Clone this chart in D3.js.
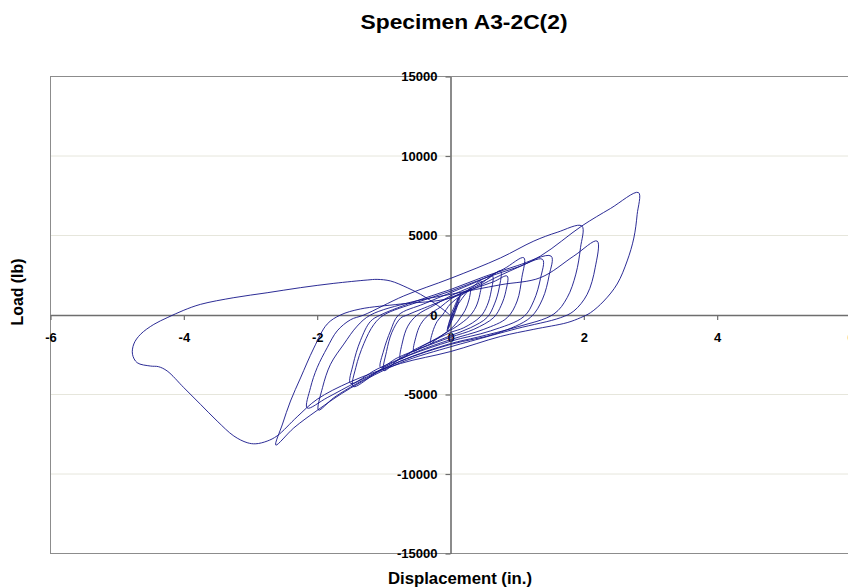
<!DOCTYPE html>
<html>
<head>
<meta charset="utf-8">
<script src="https://cdn.jsdelivr.net/npm/d3@7"></script>
<style>
  body { margin: 0; background: #fff; }
  svg { display: block; font-family: Arial, "Liberation Sans", sans-serif; }
</style>
</head>
<body>
<svg id="chart" width="848" height="588"></svg>
<script>
// [displacement (in.), load (lb)], one array per cycle
const cycle0 = [[0,0],[0.05,450],[0.12,1100],[0.09,600],[0.02,-250],[-0.04,-850],[-0.01,-400],[0.04,150],[0.1,800],[0.15,1300],[0.11,650],[0.03,-250],[-0.05,-1000],[-0.02,-450],[0.03,100]];
const cycle1 = [[0.15,900],[0.25,1450],[0.3,1700],[0.28,1000],[0.22,300],[0.15,-150],[0.05,-700],[-0.1,-1200],[-0.22,-1550],[-0.3,-1800],[-0.27,-1100],[-0.2,-400],[-0.12,0]];
const cycle2 = [[0,700],[0.15,1200],[0.3,1650],[0.46,2140],[0.44,1300],[0.38,500],[0.28,-100],[0.1,-700],[0,-950],[-0.2,-1450],[-0.4,-1900],[-0.55,-2260],[-0.52,-1400],[-0.45,-600],[-0.33,0]];
const cycle3 = [[-0.15,500],[0,1000],[0.2,1450],[0.45,1950],[0.63,2450],[0.61,1500],[0.55,600],[0.45,-100],[0.2,-800],[0,-1100],[-0.3,-1700],[-0.55,-2200],[-0.75,-2750],[-0.72,-1700],[-0.64,-700],[-0.5,0]];
const cycle4 = [[-0.25,600],[0,1200],[0.3,1750],[0.55,2250],[0.75,2770],[0.73,1700],[0.66,700],[0.55,-150],[0.3,-800],[0,-1300],[-0.4,-2000],[-0.75,-2700],[-1.0,-3500],[-0.96,-2300],[-0.88,-1100],[-0.75,-200],[-0.65,0]];
const cycle5 = [[-0.3,600],[0,1100],[0.35,1650],[0.65,2100],[0.85,2450],[0.83,1500],[0.76,600],[0.65,-150],[0.35,-900],[0,-1400],[-0.45,-2100],[-0.8,-2700],[-1.05,-3300],[-1.0,-2200],[-0.9,-1000],[-0.78,0]];
const cycle6 = [[-0.4,700],[0,1400],[0.4,2100],[0.8,2900],[1.1,3600],[1.07,2350],[1.0,880],[0.85,-170],[0.5,-900],[0,-1550],[-0.5,-2300],[-1.0,-3300],[-1.46,-4500],[-1.42,-3300],[-1.3,-1800],[-1.15,-600],[-1.0,0]];
const cycle7 = [[-0.5,800],[0,1500],[0.5,2300],[1.0,3000],[1.38,3500],[1.35,2300],[1.25,900],[1.1,-100],[0.6,-1000],[0,-1650],[-0.6,-2500],[-1.1,-3400],[-1.5,-4300],[-1.46,-3100],[-1.35,-1600],[-1.2,-400],[-1.05,0]];
const cycle8 = [[-0.5,900],[0,1600],[0.5,2400],[1.0,3100],[1.51,3700],[1.48,2500],[1.38,1000],[1.2,-150],[0.7,-1150],[0,-1850],[-0.75,-2900],[-1.4,-4200],[-1.85,-5200],[-2.15,-5850],[-2.1,-4570],[-2.0,-3310],[-1.85,-2060],[-1.7,-1000],[-1.5,-300],[-1.3,0]];
const cycle9 = [[-0.7,1200],[0,2300],[0.75,3590],[1.25,4650],[1.6,5200],[1.97,5600],[1.95,4230],[1.88,2570],[1.75,1090],[1.55,60],[1.0,-750],[0.4,-1400],[0,-1800],[-0.75,-2900],[-1.4,-4300],[-1.75,-5200],[-1.98,-5980],[-1.92,-4570],[-1.8,-3100],[-1.6,-1830],[-1.4,-700],[-1.2,0]];
const cycle10 = [[-0.6,800],[0,1300],[0.75,1900],[1.35,2350],[1.85,3710],[2.2,4650],[2.17,2970],[2.05,1300],[1.85,250],[1.65,-170],[1.0,-850],[0.3,-1650],[0,-2000],[-0.75,-3000],[-1.5,-4600],[-2.0,-6000],[-2.35,-7100],[-2.62,-8180],[-2.52,-6860],[-2.4,-5410],[-2.25,-3960],[-2.05,-2080],[-1.85,-570],[-1.65,0],[-1.35,380],[-0.75,690],[0,1070]];
const cycle11 = [[0.75,2500],[1.35,3710],[1.97,5600],[2.4,6700],[2.82,7700],[2.8,6330],[2.75,4840],[2.65,3400],[2.5,1950],[2.3,880],[2.1,145],[1.95,-170],[1.75,-480],[1.25,-900],[0.75,-1350],[0,-2300],[-0.75,-3050],[-1.5,-4200],[-2.0,-5300],[-2.3,-6400],[-2.6,-7600],[-2.75,-7930],[-2.92,-8100],[-3.05,-8030],[-3.25,-7610],[-3.5,-6670],[-3.75,-5620],[-4.0,-4570],[-4.25,-3520],[-4.38,-3250],[-4.5,-3210],[-4.7,-3000],[-4.77,-2470],[-4.75,-1820],[-4.65,-1215],[-4.45,-590],[-4.25,-170],[-4.0,300],[-3.75,670],[-3.25,1090],[-2.75,1400],[-2.25,1720],[-1.75,1990],[-1.25,2200],[-1.1,2240],[-0.9,2140],[-0.65,1720],[-0.45,1300],[-0.25,770],[-0.05,145],[0,-50]];

const xTicks = [-6, -4, -2, 0, 2, 4, 6];
const yTicks = [-15000, -10000, -5000, 0, 5000, 10000, 15000];
const gridLoads = [-10000, -5000, 5000, 10000];

const trace = [].concat(cycle0, cycle1, cycle2, cycle3, cycle4, cycle5,
                        cycle6, cycle7, cycle8, cycle9, cycle10, cycle11);

const svg = d3.select("#chart");
svg.append("rect").attr("width", 848).attr("height", 588).attr("fill", "#fff");

const x = d3.scaleLinear().domain([-6, 6]).range([50.5, 850.5]);
const y = d3.scaleLinear().domain([-15000, 15000]).range([553.5, 76.5]);

// gridlines
svg.append("g").selectAll("line").data(gridLoads).enter().append("line")
  .attr("x1", x(-6)).attr("x2", x(6))
  .attr("y1", d => y(d)).attr("y2", d => y(d))
  .attr("stroke", "#e6e6dc").attr("stroke-width", 1);

// plot frame
svg.append("rect")
  .attr("x", x(-6)).attr("y", y(15000))
  .attr("width", x(6) - x(-6)).attr("height", y(-15000) - y(15000))
  .attr("fill", "none").attr("stroke", "#8c8c8c").attr("stroke-width", 1);

// axes through zero, plain hyphen for negatives like the original
const plain = d => String(d);

const xAxis = svg.append("g")
  .attr("transform", "translate(0," + y(0) + ")")
  .call(d3.axisBottom(x).tickValues(xTicks).tickSize(5).tickSizeOuter(0).tickPadding(13).tickFormat(plain));

const yAxis = svg.append("g")
  .attr("transform", "translate(" + x(0) + ",0)")
  .call(d3.axisLeft(y).tickValues(yTicks).tickSize(5).tickSizeOuter(0).tickPadding(8).tickFormat(plain));

[xAxis, yAxis].forEach(g => {
  g.select(".domain").attr("stroke", "#6e6e6e").attr("stroke-width", 1.6);
  g.selectAll(".tick line").attr("stroke", "#6e6e6e").attr("stroke-width", 1.2);
  g.selectAll(".tick text")
    .attr("fill", "#000")
    .style("font-size", "13px")
    .style("font-weight", "bold")
    .style("font-family", "Arial, 'Liberation Sans', sans-serif");
});

// load–displacement trace
const line = d3.line()
  .x(d => x(d[0]))
  .y(d => y(d[1]))
  .curve(d3.curveCatmullRom.alpha(0.5));

svg.append("path")
  .datum(trace)
  .attr("d", line)
  .attr("fill", "none")
  .attr("stroke", "#15158a")
  .attr("stroke-width", 1)
  .attr("stroke-opacity", 0.9);

// titles
svg.append("text")
  .attr("x", 464).attr("y", 29)
  .attr("text-anchor", "middle")
  .attr("textLength", 207).attr("lengthAdjust", "spacingAndGlyphs")
  .style("font-size", "20px").style("font-weight", "bold")
  .text("Specimen A3-2C(2)");

svg.append("text")
  .attr("x", 460).attr("y", 584)
  .attr("text-anchor", "middle")
  .attr("textLength", 144).attr("lengthAdjust", "spacingAndGlyphs")
  .style("font-size", "16px").style("font-weight", "bold")
  .text("Displacement (in.)");

svg.append("text")
  .attr("transform", "translate(23,292) rotate(-90)")
  .attr("text-anchor", "middle")
  .attr("textLength", 67).attr("lengthAdjust", "spacingAndGlyphs")
  .style("font-size", "16px").style("font-weight", "bold")
  .text("Load (lb)");
</script>
</body>
</html>
